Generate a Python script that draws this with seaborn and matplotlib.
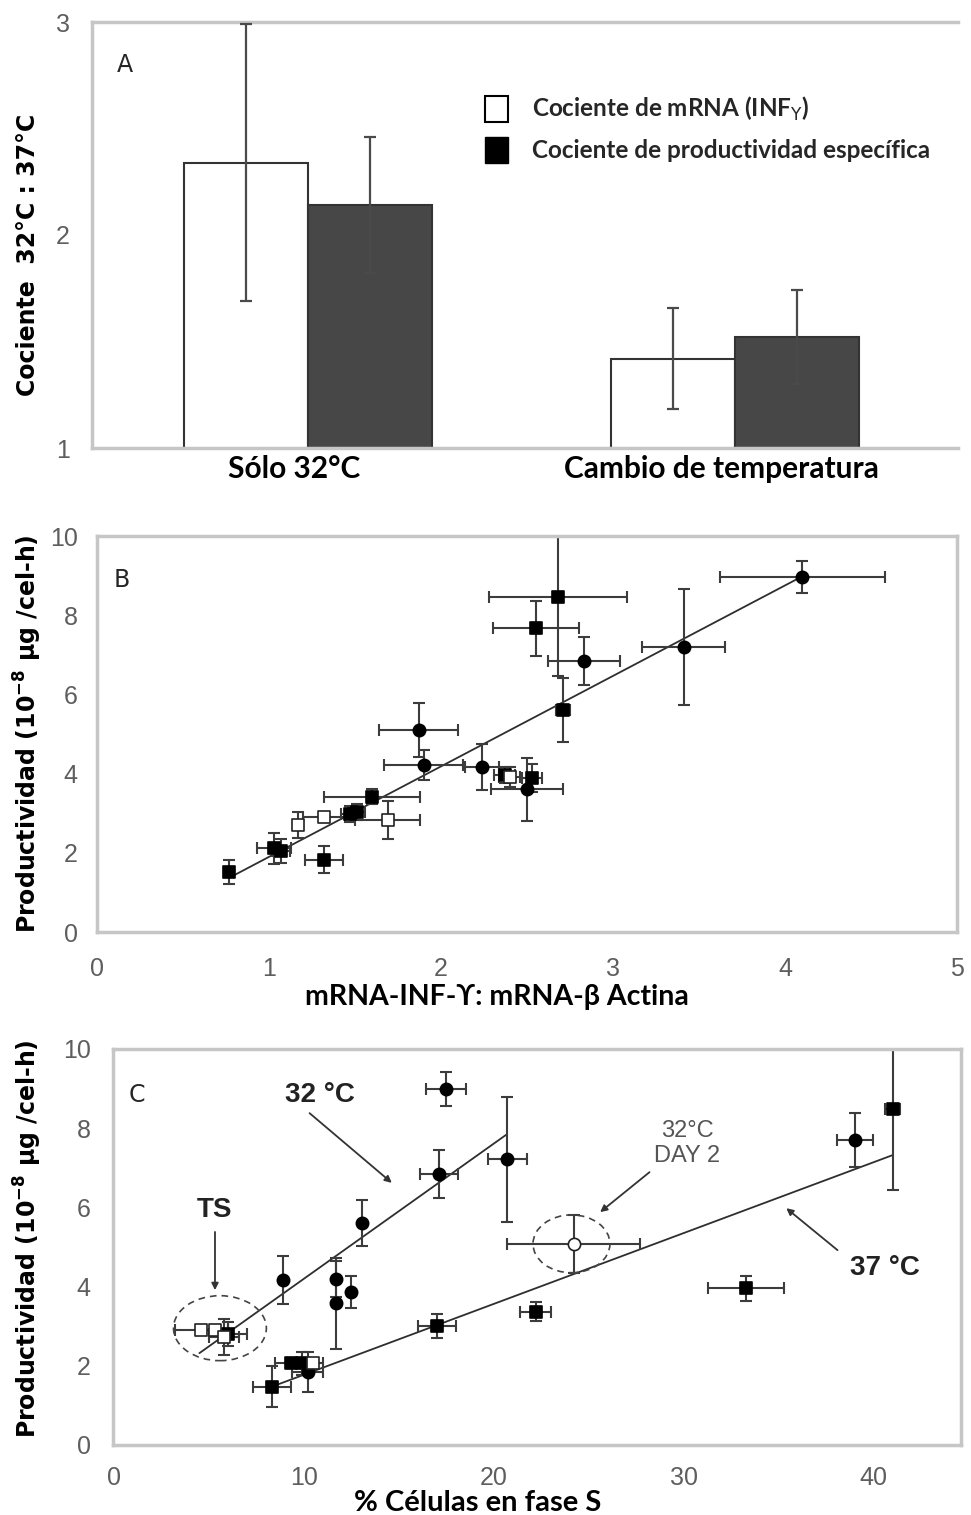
import numpy as np
import pandas as pd
import matplotlib
matplotlib.use("Agg")
import matplotlib.pyplot as plt
import matplotlib.transforms as mtransforms
import seaborn as sns
from matplotlib.patches import Patch, Ellipse

# ---------------- Panel A data ----------------
a_conditions = ["Sólo 32°C", "Cambio de temperatura"]
a_series = ["Cociente de mRNA (INF$_{\\Upsilon}$)", "Cociente de productividad específica"]
a_mrna = [2.34, 1.42]
a_mrna_err = [0.65, 0.235]
a_prod = [2.14, 1.52]
a_prod_err = [0.32, 0.22]
a_yticks = [1, 2, 3]

# ---------------- Panel B data ----------------
b_x    = [0.77, 1.03, 1.07, 1.17, 1.32, 1.32, 1.47, 1.51, 1.60, 1.69, 1.87, 1.90, 2.24, 2.37, 2.40, 2.53, 2.50, 2.68, 2.55, 2.83, 2.71, 3.41, 4.10]
b_y    = [1.52, 2.11, 2.05, 2.70, 2.91, 1.83, 2.98, 3.02, 3.42, 2.83, 5.10, 4.22, 4.17, 3.96, 3.92, 3.88, 3.60, 8.47, 7.67, 6.84, 5.61, 7.20, 8.97]
b_ylo  = [0.30, 0.40, 0.30, 0.33, 0.12, 0.35, 0.20, 0.20, 0.20, 0.48, 0.68, 0.38, 0.59, 0.20, 0.25, 0.35, 0.80, 2.00, 0.69, 0.60, 0.80, 1.47, 0.40]
b_yhi  = [0.30, 0.40, 0.30, 0.33, 0.12, 0.35, 0.20, 0.20, 0.20, 0.48, 0.68, 0.38, 0.59, 0.20, 0.25, 0.35, 0.80, 1.62, 0.69, 0.60, 0.80, 1.47, 0.40]
b_xerr = [0.00, 0.10, 0.05, 0.03, 0.12, 0.11, 0.05, 0.05, 0.28, 0.19, 0.23, 0.23, 0.10, 0.06, 0.06, 0.06, 0.21, 0.40, 0.25, 0.21, 0.04, 0.24, 0.48]
b_kind = ["sq", "sq", "sq", "open", "open", "sq", "sq", "sq", "sq", "open", "ci", "ci", "ci", "sq", "open", "sq", "ci", "sq", "sq", "ci", "sq", "ci", "ci"]
b_fit_x = [0.80, 4.10]
b_fit_y = [1.44, 8.98]
b_xticks = [0, 1, 2, 3, 4, 5]
b_yticks = [0, 2, 4, 6, 8, 10]

# ---------------- Panel C data ----------------
c_x    = [8.9, 11.7, 11.7, 12.5, 13.05, 17.1, 17.5, 20.7,
          8.3, 9.3, 9.9, 10.5, 10.2, 17.0, 22.2, 33.3, 39.0, 41.0,
          4.6, 5.3, 5.8, 6.0, 24.2]
c_y    = [4.17, 4.19, 3.58, 3.86, 5.60, 6.84, 8.98, 7.22,
          1.47, 2.06, 2.06, 2.06, 1.85, 3.01, 3.37, 3.96, 7.70, 8.48,
          2.90, 2.90, 2.72, 2.80, 5.08]
c_ylo  = [0.60, 0.46, 1.15, 0.41, 0.58, 0.60, 0.43, 1.58,
          0.52, 0.10, 0.30, 0.10, 0.50, 0.30, 0.25, 0.32, 0.68, 2.04,
          0.05, 0.05, 0.45, 0.30, 0.73]
c_yhi  = [0.60, 0.46, 1.15, 0.41, 0.58, 0.60, 0.43, 1.58,
          0.52, 0.10, 0.30, 0.10, 0.50, 0.30, 0.25, 0.32, 0.68, 1.60,
          0.05, 0.05, 0.45, 0.30, 0.73]
c_xerr = [0.0, 0.0, 0.0, 0.0, 0.0, 1.0, 1.05, 1.03,
          1.0, 0.8, 0.6, 0.5, 0.8, 1.0, 0.8, 2.0, 0.95, 0.4,
          1.4, 0.7, 0.8, 1.0, 3.5]
c_kind = ["ci", "ci", "ci", "ci", "ci", "ci", "ci", "ci",
          "sq", "sq", "sq", "open", "ci", "sq", "sq", "sq", "ci", "sq",
          "open", "open", "open", "sq", "openci"]
c_fit32_x = [4.5, 20.7]
c_fit32_y = [2.32, 7.85]
c_fit37_x = [8.3, 41.0]
c_fit37_y = [1.47, 7.32]
c_xticks = [0, 10, 20, 30, 40]
c_yticks = [0, 2, 4, 6, 8, 10]

# ---------------- style ----------------
sns.set_theme(style="white")
plt.rcParams["font.family"] = ["DejaVu Sans"]

W, H = 971, 1515
fig = plt.figure(figsize=(W / 100, H / 100), dpi=100)

def frac(l, t, r, b):
    return [l / W, 1 - b / H, (r - l) / W, (b - t) / H]

FRAME = "#c6c6c6"
TICKC = "#5e5e5e"
ERR = "#3c3c3c"
TICK_FAMILY = "Liberation Sans"
TICK_SIZE = 18
ylab_font = dict(family="DejaVu Sans", weight="bold", size=17, color="black")

def style_axes(ax, right=True):
    for s in ["left", "right", "top", "bottom"]:
        ax.spines[s].set_color(FRAME)
        ax.spines[s].set_linewidth(2.5)
        ax.spines[s].set_visible(True)
    if not right:
        ax.spines["right"].set_visible(False)
    ax.tick_params(length=0)
    for lab in ax.get_yticklabels():
        lab.set_fontfamily(TICK_FAMILY); lab.set_fontsize(TICK_SIZE); lab.set_color(TICKC)

# ================= Panel A =================
axA = fig.add_axes(frac(92, 22, 958, 448))
dfA = pd.DataFrame({
    "cond": a_conditions * 2,
    "serie": [a_series[0]] * 2 + [a_series[1]] * 2,
    "val": a_mrna + a_prod,
})
sns.barplot(data=dfA, x="cond", y="val", hue="serie", order=a_conditions, hue_order=a_series,
            palette=["white", "#474747"], saturation=1, width=0.58, edgecolor="#333333",
            linewidth=1.5, errorbar=None, legend=False, ax=axA)
for cont, means, errs in zip(axA.containers, [a_mrna, a_prod], [a_mrna_err, a_prod_err]):
    xs = [b.get_x() + b.get_width() / 2 for b in cont]
    axA.errorbar(xs, means, yerr=errs, fmt="none", ecolor="#4a4a4a", elinewidth=1.6,
                 capsize=4.5, capthick=1.6, zorder=5)
axA.set_ylim(1, 3)
axA.set_xlim(-0.506, 1.522)
axA.set_yticks(a_yticks)
axA.set_yticklabels([str(t) for t in a_yticks])
axA.set_xlabel("")
axA.set_ylabel("Cociente  32°C : 37°C", **ylab_font)
axA.yaxis.set_label_coords(-0.074, 0.453)
axA.yaxis.label.set_va("center")
style_axes(axA, right=False)
axA.tick_params(axis="y", pad=16)
axA.tick_params(axis="x", pad=5)
shift = mtransforms.ScaledTranslation(-14 / 100, 0, fig.dpi_scale_trans)
for lab in axA.get_xticklabels():
    lab.set_fontfamily("Lato"); lab.set_fontweight("bold"); lab.set_fontsize(21.5); lab.set_color("black")
    lab.set_transform(lab.get_transform() + shift)
handles = [Patch(facecolor="white", edgecolor="black", linewidth=1.5),
           Patch(facecolor="black", edgecolor="black")]
axA.legend(handles, a_series, loc="upper left", bbox_to_anchor=(0.429, 0.88), frameon=False,
           handlelength=0.95, handleheight=1.3, labelspacing=0.55, handletextpad=0.95,
           prop=dict(family="Lato", weight="bold", size=17.5))
axA.text(0.038, 0.90, "A", transform=axA.transAxes, fontsize=17, ha="center", va="center",
         family="DejaVu Sans")

# ---------- helpers for scatter panels ----------
KINDS = {"sq": ("s", "black", "black"), "ci": ("o", "black", "black"),
         "open": ("s", "white", "#222222"), "openci": ("o", "white", "#222222")}

def draw_points(ax, df):
    ax.errorbar(df["x"], df["y"], yerr=[df["ylo"], df["yhi"]], fmt="none", ecolor=ERR,
                elinewidth=1.5, capsize=4.5, capthick=1.5, zorder=2)
    dx = df[df["xerr"] > 0]
    ax.errorbar(dx["x"], dx["y"], xerr=dx["xerr"], fmt="none", ecolor=ERR,
                elinewidth=1.5, capsize=4.5, capthick=1.5, zorder=2)
    for kind, (marker, face, edge) in KINDS.items():
        sub = df[df["kind"] == kind]
        if len(sub) == 0:
            continue
        sns.scatterplot(data=sub, x="x", y="y", marker=marker, color=face, edgecolor=edge,
                        linewidth=1.2, s=78, ax=ax, zorder=3, legend=False)

def style_xticks(ax):
    for lab in ax.get_xticklabels():
        lab.set_fontfamily(TICK_FAMILY); lab.set_fontsize(TICK_SIZE); lab.set_color(TICKC)

# ================= Panel B =================
axB = fig.add_axes(frac(97, 536, 957, 932))
dfB = pd.DataFrame({"x": b_x, "y": b_y, "ylo": b_ylo, "yhi": b_yhi, "xerr": b_xerr, "kind": b_kind})
sns.lineplot(x=b_fit_x, y=b_fit_y, color="#2e2e2e", linewidth=1.3, ax=axB, zorder=1)
draw_points(axB, dfB)
axB.set_xlim(0, 5)
axB.set_ylim(0, 10)
axB.set_xticks(b_xticks)
axB.set_yticks(b_yticks)
axB.set_xlabel("mRNA-INF-ϒ: mRNA-β Actina", family="Lato", weight="bold", size=20.5, color="black")
axB.xaxis.set_label_coords(0.465, -0.165)
axB.xaxis.label.set_va("center")
axB.set_ylabel("Productividad (10$^{\\mathbf{-8}}$ µg /cel-h)", **ylab_font)
axB.yaxis.set_label_coords(-0.080, 0.5)
axB.yaxis.label.set_va("center")
style_axes(axB)
axB.tick_params(axis="y", pad=14)
axB.tick_params(axis="x", pad=18)
style_xticks(axB)
axB.text(0.029, 0.889, "B", transform=axB.transAxes, fontsize=17, ha="center", va="center")

# ================= Panel C =================
axC = fig.add_axes(frac(113, 1049, 961, 1445))
dfC = pd.DataFrame({"x": c_x, "y": c_y, "ylo": c_ylo, "yhi": c_yhi, "xerr": c_xerr, "kind": c_kind})
sns.lineplot(x=c_fit32_x, y=c_fit32_y, color="#2e2e2e", linewidth=1.3, ax=axC, zorder=1)
sns.lineplot(x=c_fit37_x, y=c_fit37_y, color="#2e2e2e", linewidth=1.3, ax=axC, zorder=1)
draw_points(axC, dfC)
axC.set_xlim(-0.05, 44.6)
axC.set_ylim(0, 10)
axC.set_xticks(c_xticks)
axC.set_yticks(c_yticks)
axC.set_xlabel("% Células en fase S", family="Lato", weight="bold", size=21, color="black")
axC.xaxis.set_label_coords(0.43, -0.147)
axC.xaxis.label.set_va("center")
axC.set_ylabel("Productividad (10$^{\\mathbf{-8}}$ µg /cel-h)", **ylab_font)
axC.yaxis.set_label_coords(-0.100, 0.52)
axC.yaxis.label.set_va("center")
style_axes(axC)
axC.tick_params(axis="y", pad=16)
axC.tick_params(axis="x", pad=15)
style_xticks(axC)
axC.text(0.028, 0.884, "C", transform=axC.transAxes, fontsize=17, ha="center", va="center")

arrow = dict(arrowstyle="-|>", color="#333333", lw=1.3, mutation_scale=10, shrinkA=0, shrinkB=0)
ann_font = dict(family="Liberation Sans", weight="bold", size=20, color="#222222")
axC.text(10.84, 8.84, "32 °C", ha="center", va="center", **ann_font)
axC.annotate("", xy=(14.63, 6.62), xytext=(10.3, 8.38), arrowprops=arrow)
axC.text(5.32, 5.93, "TS", ha="center", va="center", **ann_font)
axC.annotate("", xy=(5.32, 3.91), xytext=(5.32, 5.38), arrowprops=arrow)
axC.text(40.6, 4.47, "37 °C", ha="center", va="center", **ann_font)
axC.annotate("", xy=(35.4, 5.98), xytext=(38.1, 4.92), arrowprops=arrow)
axC.text(30.2, 7.62, "32°C\nDAY 2", ha="center", va="center", family="Liberation Sans",
         size=17, color="#555555", linespacing=1.15)
axC.annotate("", xy=(25.6, 5.88), xytext=(28.2, 6.89), arrowprops=arrow)
axC.add_patch(Ellipse((5.58, 2.95), 4.89, 1.64, fill=False, ls=(0, (4, 3)), lw=1.2, ec="#444444", zorder=4))
axC.add_patch(Ellipse((24.09, 5.08), 4.05, 1.46, fill=False, ls=(0, (4, 3)), lw=1.2, ec="#444444", zorder=4))

fig.savefig("out.png", dpi=100)
